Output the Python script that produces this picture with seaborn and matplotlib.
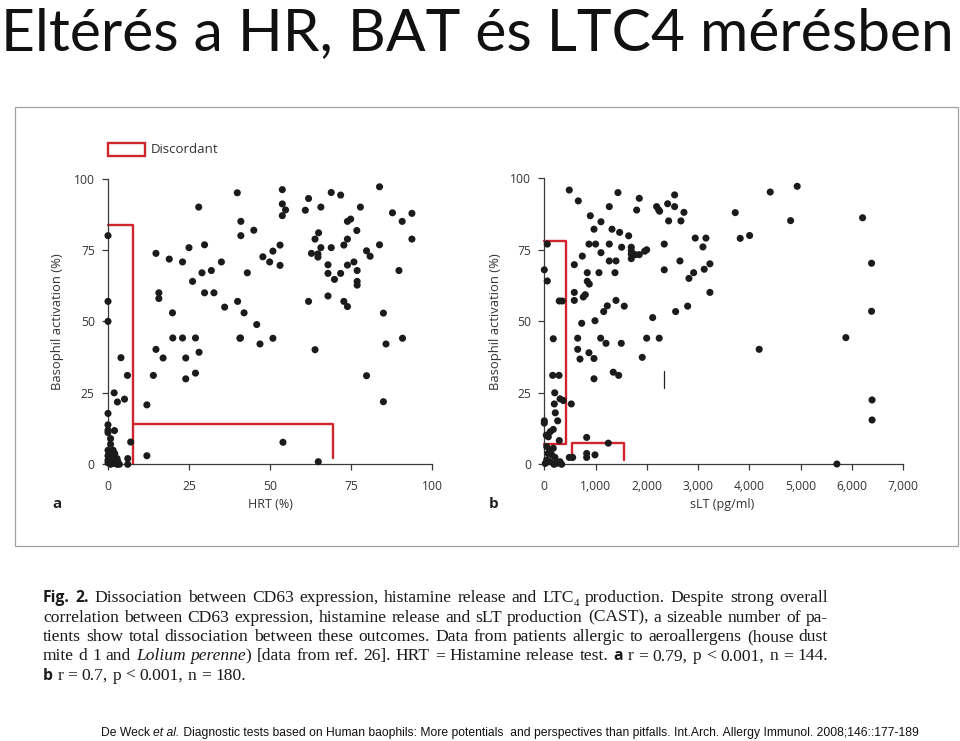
import matplotlib
matplotlib.use("Agg")
import matplotlib.pyplot as plt
import seaborn as sns
import pandas as pd
from matplotlib.patches import Rectangle

# ---------------- data ----------------
# Panel a: HRT (%) vs basophil activation (%)
hrt_a = [0, 0, 0, 14.8, 18.9, 23.0, 25, 28, 26.1, 29, 29.8, 29.8, 31.9, 32.7, 35, 15.7, 15.7, 19.9, 36,
         39.9, 41, 41, 45, 43, 40, 42, 45.9,
         53.8, 53.8, 54.8, 53.8, 61.9, 60.9, 65.7, 68.9, 71.8, 83.8, 77.9, 87.8, 93.8, 90.8, 93.8, 73.9,
         74.9, 76.8, 73.9, 72.8, 65, 63.9, 65.7, 68.9, 62.8, 64.8, 64.8, 79.8, 80.9, 83.8, 67.9, 73.9,
         75.9, 76.9, 67.9, 71.8, 69.9, 76.9, 76.9, 89.8, 67.9, 61.9, 72.8, 73.9, 85, 53.1, 50.9, 47.8,
         49.9, 53.1, 40.7, 46.9, 50.9, 63.9, 85.8, 90.9,
         79.8, 85, 54, 64.9,
         4, 6, 1.9, 5.1, 2.9, 0, 0, 0, 0, 2, 0.8, 0.8, 7,
         0, 0.8, 1.6, 2.1, 2.8, 0, 1.6, 2.8, 0.8, 6.1, 6.1, 0, 2.1, 3, 0, 1, 1.5, 2.5, 3.5,
         12, 12, 14.8, 14, 17, 20, 23, 27, 24, 28.1, 27, 24, 40.9]
ba_a = [80, 57, 50, 73.8, 71.8, 70.8, 75.8, 90, 64, 67, 76.8, 60, 67.8, 60, 70.8, 60, 58, 53, 55,
        95, 85, 80, 81.9, 67, 57, 53, 48.9,
        96.1, 91.1, 89, 87, 93, 88.9, 90, 95.1, 94.2, 97.1, 90, 88, 87.8, 85, 78.8, 85,
        85.8, 81.8, 78.8, 76.7, 81, 78.8, 75.8, 75.8, 73.8, 73.6, 72.5, 74.7, 72.8, 76.8, 69.8, 69.7,
        70.8, 67.8, 66.8, 66.8, 64.7, 64, 62.7, 67.8, 58.9, 57, 57, 55.2, 52.9, 76.7, 74.6, 72.6,
        70.8, 69.6, 44.1, 42.1, 44.1, 40.1, 42.1, 44.1,
        31, 21.9, 7.7, 0.9,
        37.3, 31.1, 25, 22.8, 21.8, 17.8, 13.8, 11.9, 11.1, 11.8, 9, 7, 7.8,
        4.9, 3.7, 4.9, 2.6, 2, 1.4, 1.4, 0, 0, 2, 0, 3, 3.7, 1, 0.5, 1.5, 0.3, 0.3, 0,
        20.8, 3, 40.2, 31.1, 37.2, 44.2, 44.2, 44.2, 37.2, 39.2, 31.9, 29.9, 44.2]

# Panel b: sLT (pg/ml) vs basophil activation (%)
slt_b = [58, 0, 58, 292, 351, 175, 487, 663, 585, 741, 585, 585, 760, 799, 838, 838, 877, 729, 651, 651,
         871, 897, 1105, 969, 871, 1000, 1105, 988, 1066, 1158, 1228, 1099, 1203, 1267, 1320, 1469,
         1267, 1267, 1398, 1378, 1398, 1559, 1501, 1436, 1508, 1645, 1696, 1696, 1696, 1696, 1801,
         1852, 1775, 1852, 1957, 1996, 1910, 1996, 2113, 2241, 2190, 2229, 2248, 2339, 2339, 2405,
         2424, 2541, 2541, 2723, 2664, 2645, 2561, 2795, 2820, 2912, 2943,
         3152, 3093, 3229, 3118, 3229, 3723, 3820, 4003, 4405, 4931, 4803, 6206, 6381, 6381, 5880, 4190,
         6391, 6391, 5705,
         696, 969, 969, 1345, 1450, 164, 287, 203, 195, 306, 370, 526, 214, 261, 0, 0, 175, 117, 39, 78,
         292, 826, 1248, 47, 111, 175, 72, 144, 208, 47, 111, 242, 306, 339, 19, 189, 487, 553, 826,
         826, 988]
ba_b = [77, 68, 64.1, 57.1, 57.1, 43.9, 95.9, 92.1, 69.8, 72.8, 60.1, 57.3, 58.5, 59.3, 67, 64, 63, 49.3,
        44.1, 40.2, 39, 86.9, 84.8, 82.2, 77, 77, 74, 50.2, 67, 53.4, 55.4, 44.1, 42.3, 90.1, 82.2, 81.1,
        77, 71.1, 71.1, 67, 57.3, 55.3, 42.3, 95, 75.9, 79.9, 75.9, 74.7, 73.5, 71.9, 88.9,
        93, 73.3, 73.3, 74.5, 75, 37.4, 44.1, 51.3, 44.1, 90.1, 89, 88.5, 77, 68, 91.1,
        85.1, 90.1, 94.2, 88.1, 85.1, 71.1, 53.4, 55.3, 65, 67, 79.1,
        79.1, 76, 70.1, 68.2, 60.1, 88, 79, 80, 95.2, 97.2, 85.2, 86.2, 70.3, 53.5, 44.3, 40.2,
        22.5, 15.5, 0.1,
        36.8, 37, 29.9, 32.2, 31.1, 31.1, 31.1, 25, 21.1, 22.9, 22.3, 21.1, 18, 15.2, 15.2, 14.4, 12.2,
        11.4, 10.2, 9.6, 8.3, 9.4, 7.4, 6.2, 5, 5.6, 3.8, 3.3, 2.4, 1.5, 0.9, 0.3, 0.9, 0, 0.3, 0,
        2.4, 2.4, 3.8, 2.4, 3.3]

# "Discordant" outlines (data coordinates)
disc_a1_x = [0, 7.8, 7.8]
disc_a1_y = [83.7, 83.7, 0]
disc_a2_x = [7.8, 69.5, 69.5]
disc_a2_y = [14.1, 14.1, 2.2]
disc_b1_x = [0, 423, 423, 0]
disc_b1_y = [78.2, 78.2, 7.1, 7.1]
disc_b2_x = [540, 540, 1560, 1560]
disc_b2_y = [1.5, 7.3, 7.3, 1.5]
stray_b_x = [2339, 2339]
stray_b_y = [26.7, 32.7]

ticks_a_x = [0, 25, 50, 75, 100]
ticks_y = [0, 25, 50, 75, 100]
ticks_b_x = [0, 1000, 2000, 3000, 4000, 5000, 6000, 7000]
ticks_b_labels = ["0", "1,000", "2,000", "3,000", "4,000", "5,000", "6,000", "7,000"]

title = "Eltérés a HR, BAT és LTC4 mérésben"
footer_parts = [("De Weck ", "normal"), ("et al.", "italic"),
                (" Diagnostic tests based on Human baophils: More potentials  and perspectives than pitfalls. "
                 "Int.Arch. Allergy Immunol. 2008;146::177-189", "normal")]

caption_lines = [
    [[("Fig.", "b")], [("2.", "b")], "Dissociation", "between", "CD63", "expression,", "histamine", "release",
     "and", [("LTC", "r"), ("4", "sub")], "production.", "Despite", "strong", "overall"],
    ["correlation", "between", "CD63", "expression,", "histamine", "release", "and", "sLT", "production",
     "(CAST),", "a", "sizeable", "number", "of", "pa-"],
    ["tients", "show", "total", "dissociation", "between", "these", "outcomes.", "Data", "from", "patients",
     "allergic", "to", "aeroallergens", "(house", "dust"],
    ["mite", "d", "1", "and", [("Lolium", "i")], [("perenne", "i"), (")", "r")], "[data", "from", "ref.", "26].",
     "HRT", "=", "Histamine", "release", "test.", [("a", "b")], "r", "=", "0.79,", "p", "<", "0.001,", "n",
     "=", "144."],
    [[("b", "b")], "r", "=", "0.7,", "p", "<", "0.001,", "n", "=", "180."],
]

# ---------------- figure ----------------
sns.set_theme(style="ticks")
plt.rcParams["font.family"] = ["Open Sans", "DejaVu Sans"]

W, H = 960, 741
fig = plt.figure(figsize=(W / 100, H / 100), dpi=100)
fig.patch.set_facecolor("white")
renderer = fig.canvas.get_renderer()


def fx(x):
    return x / W


def fy(y):
    return 1 - y / H


RED = "#d0252d"
DOT = "#1b1b1b"
AXC = "#3a3a3a"

# inner frame
fig.add_artist(Rectangle((fx(15), fy(546)), (958 - 15) / W, (546 - 107) / H, transform=fig.transFigure,
                         fill=False, edgecolor="#a0a0a0", lw=0.9))

df_a = pd.DataFrame({"HRT": hrt_a, "BA": ba_a})
df_b = pd.DataFrame({"sLT": slt_b, "BA": ba_b})

ax_a = fig.add_axes([fx(108), fy(464.3), (432 - 108) / W, (464.3 - 178.5) / H])
ax_b = fig.add_axes([fx(544.3), fy(464.3), (903.3 - 544.3) / W, (464.3 - 178.3) / H])

for ax in (ax_a, ax_b):
    ax.set_facecolor("white")
    for s in ("top", "right"):
        ax.spines[s].set_visible(False)
    for s in ("left", "bottom"):
        ax.spines[s].set_color(AXC)
        ax.spines[s].set_linewidth(0.9)
    ax.tick_params(direction="out", length=4.5, width=0.9, color=AXC, labelcolor="#333333", labelsize=8.7)
    ax.tick_params(axis="x", pad=7)
    ax.tick_params(axis="y", pad=5)
    ax.set_ylim(0, 100)
    ax.set_yticks(ticks_y)

sns.scatterplot(data=df_a, x="HRT", y="BA", ax=ax_a, s=26, color=DOT, edgecolor="none", linewidth=0,
                clip_on=False, legend=False, zorder=3)
sns.scatterplot(data=df_b, x="sLT", y="BA", ax=ax_b, s=26, color=DOT, edgecolor="none", linewidth=0,
                clip_on=False, legend=False, zorder=3)

ax_a.plot(disc_a1_x, disc_a1_y, color=RED, lw=1.7, clip_on=False, zorder=2)
ax_a.plot(disc_a2_x, disc_a2_y, color=RED, lw=1.7, clip_on=False, zorder=2)
ax_b.plot(disc_b1_x, disc_b1_y, color=RED, lw=1.7, clip_on=False, zorder=2)
ax_b.plot(disc_b2_x, disc_b2_y, color=RED, lw=1.7, clip_on=False, zorder=2)
ax_b.plot(stray_b_x, stray_b_y, color="#222222", lw=0.9, zorder=2)

ax_a.set_xlim(0, 100)
ax_a.set_xticks(ticks_a_x)
ax_b.set_xlim(0, 7000)
ax_b.set_xticks(ticks_b_x)
ax_b.set_xticklabels(ticks_b_labels)

ax_a.set_xlabel("HRT (%)", fontsize=9, color="#333333")
ax_b.set_xlabel("sLT (pg/ml)", fontsize=9, color="#333333")
ax_a.set_ylabel("Basophil activation (%)", fontsize=9.4, color="#333333")
ax_b.set_ylabel("Basophil activation (%)", fontsize=9.4, color="#333333")
ax_a.xaxis.set_label_coords(0.5, -(498 - 464.3) / 285.8)
ax_b.xaxis.set_label_coords(0.495, -(498 - 464.3) / 286)
ax_a.yaxis.set_label_coords(-(108 - 64.5) / 324, 0.5)
ax_b.yaxis.set_label_coords(-(544.3 - 501.5) / 359, 0.5)

# panel letters
fig.text(fx(52), fy(508), "a", fontsize=11, weight="bold", color="#222222", va="baseline")
fig.text(fx(489), fy(508), "b", fontsize=11, weight="bold", color="#222222", va="baseline")

# legend
fig.add_artist(Rectangle((fx(107.7), fy(156)), 37.6 / W, 12.7 / H, transform=fig.transFigure,
                         fill=False, edgecolor=RED, lw=1.7))
fig.text(fx(151), fy(149.5), "Discordant", fontsize=9.5, color="#333333", va="center", ha="left")


# ---------------- text helpers ----------------
def text_width(s, **kw):
    t = fig.text(0, 0, s, **kw)
    w = t.get_window_extent(renderer).width
    t.remove()
    return w


# title fitted to width
TFAM = ["Lato", "DejaVu Sans"]
w40 = text_width(title, family=TFAM, fontsize=40)
tsize = 40 * (953 / w40)
fig.text(fx(1), fy(50), title, family=TFAM, fontsize=tsize, color="#111111", va="baseline", ha="left")

# footer fitted to width
FFAM = ["Liberation Sans", "DejaVu Sans"]
wsum = sum(text_width(p.replace(" ", "\u00a0"), family=FFAM, fontsize=9, style=st) for p, st in footer_parts)
fsize = 9 * (821 / wsum)
xcur = 101
for p, st in footer_parts:
    s = p.replace(" ", "\u00a0")
    fig.text(fx(xcur), fy(736), s, family=FFAM, fontsize=fsize, style=st, color="#111111", va="baseline")
    xcur += text_width(s, family=FFAM, fontsize=fsize, style=st)

# caption, justified
SERIF = ["Liberation Serif", "DejaVu Serif"]


def cap_styles(size):
    return {
        "r": dict(family=SERIF, fontsize=size),
        "i": dict(family=SERIF, fontsize=size, style="italic"),
        "b": dict(family=["Open Sans", "DejaVu Sans"], fontsize=size * 0.9, weight="bold"),
        "sub": dict(family=SERIF, fontsize=size * 0.62),
    }


def norm_word(w):
    return [(w, "r")] if isinstance(w, str) else w


def word_width(word, st):
    return sum(text_width(t, **st[s]) for t, s in word)


base = 12.5
st = cap_styles(base)
space_w = text_width("a\u00a0a", **st["r"]) - text_width("aa", **st["r"])
nat = []
for line in caption_lines[:4]:
    ww = sum(word_width(norm_word(w), st) for w in line)
    nat.append(ww + space_w * (len(line) - 1))
csize = base * (828 - 43) / (sum(nat) / len(nat)) * 0.985
st = cap_styles(csize)
space_w = text_width("a\u00a0a", **st["r"]) - text_width("aa", **st["r"])

baselines = [602.3, 621.7, 641, 660.3, 679.5]
for li, line in enumerate(caption_lines):
    words = [norm_word(w) for w in line]
    widths = [word_width(w, st) for w in words]
    if li < 4:
        gap = (828 - 43 - sum(widths)) / (len(words) - 1)
    else:
        gap = space_w
    xcur = 43
    for w, wd in zip(words, widths):
        xx = xcur
        for t, s in w:
            dy = 3.5 if s == "sub" else 0
            fig.text(fx(xx), fy(baselines[li] + dy), t, color="#1a1a1a", va="baseline", ha="left", **st[s])
            xx += text_width(t, **st[s])
        xcur += wd + gap

fig.savefig("out.png", dpi=100, facecolor="white")
